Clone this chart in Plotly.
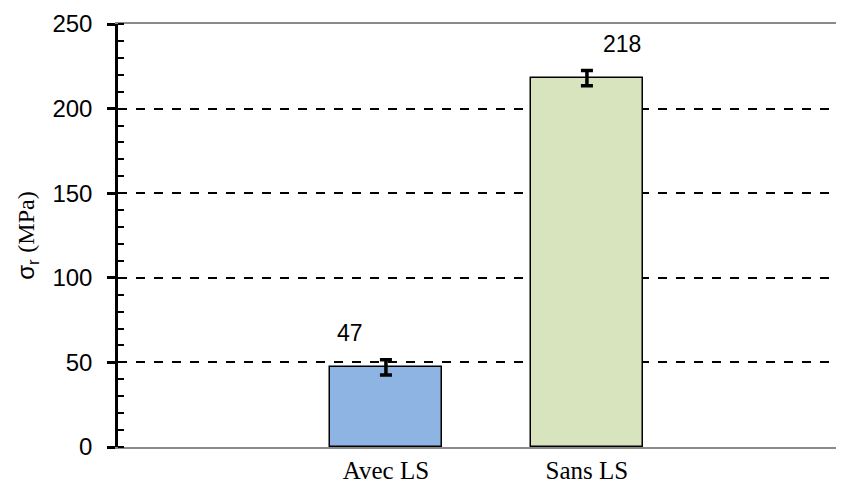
import plotly.graph_objects as go

categories = ["Avec LS", "Sans LS"]
values = [47, 218]
errors = [4.5, 4.5]
colors = ["#8DB4E2", "#D7E4BD"]
label_xshift = [-36, 35]

x_pos = list(range(len(categories)))

SERIF = "Times New Roman, Liberation Serif, serif"
SANS = "Arial, Liberation Sans, sans-serif"

fig = go.Figure()
fig.add_trace(go.Bar(
    x=x_pos, y=values, width=0.56,
    marker=dict(color=colors, line=dict(color="black", width=1.5)),
    error_y=dict(type="data", array=errors, visible=True, color="black",
                 thickness=3.5, width=6),
    showlegend=False, hoverinfo="skip",
))
# invisible trace on overlay axis for dashed gridlines
fig.add_trace(go.Scatter(x=[x_pos[0]], y=[0], yaxis="y2", mode="markers",
                         marker=dict(opacity=0), showlegend=False, hoverinfo="skip"))

for xi, v, dx in zip(x_pos, values, label_xshift):
    fig.add_annotation(x=xi, y=v, text=str(v), showarrow=False,
                       xshift=dx, yshift=34, yanchor="middle",
                       font=dict(family=SANS, size=23, color="black"))

fig.update_layout(
    width=836, height=478,
    margin=dict(l=110, r=2, t=12, b=39),
    plot_bgcolor="white", paper_bgcolor="white",
    bargap=0,
    xaxis=dict(range=[-1.333, 2.269], tickvals=x_pos, ticktext=categories,
               showgrid=False, zeroline=False, showline=True, linecolor="#8a8a8a",
               linewidth=2, mirror=True, ticks="",
               tickfont=dict(family=SERIF, size=25, color="black")),
    yaxis=dict(range=[0, 250], dtick=50, showgrid=False, zeroline=False,
               showline=True, linecolor="black", linewidth=2.5,
               ticks="outside", ticklen=8, tickwidth=2.5, tickcolor="black",
               ticklabelstandoff=10, ticklabeloverflow="allow",
               minor=dict(dtick=10, ticks="inside", ticklen=6, tickwidth=2, tickcolor="black", showgrid=False),
               tickfont=dict(family=SANS, size=24, color="black"),
               title=dict(text='σ<sub>r</sub> <span style="font-family:Times New Roman, Liberation Serif, serif">(MPa)</span>',
                          font=dict(family=SANS, size=24, color="black"),
                          standoff=12)),
    yaxis2=dict(range=[0, 250], overlaying="y", tickvals=[50, 100, 150, 200],
                showticklabels=False, ticks="", showgrid=True, gridcolor="black",
                gridwidth=2, griddash="dash", zeroline=False, showline=False),
)

fig.write_html("out.html")
